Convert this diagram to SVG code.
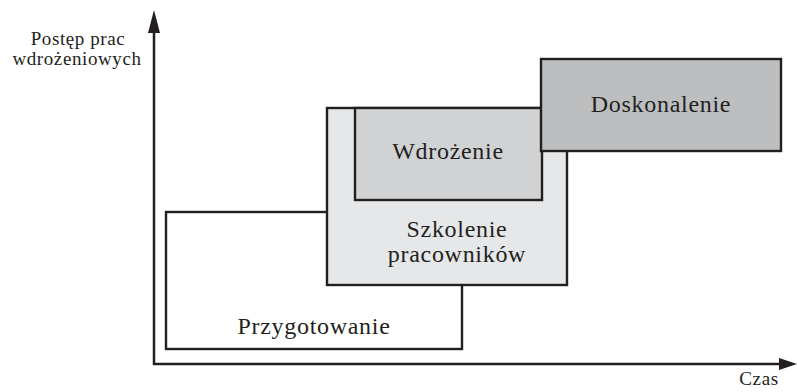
<svg xmlns="http://www.w3.org/2000/svg" width="797" height="392" viewBox="0 0 797 392">
  <style>
    .box { stroke: #231f20; stroke-width: 2.4; }
    .axis { stroke: #231f20; stroke-width: 2.5; fill: none; }
    .lbl { font-family: "Liberation Serif", "DejaVu Serif", serif; fill: #231f20; text-anchor: middle; }
    .big { font-size: 24px; letter-spacing: 0.7px; }
    .small { font-size: 19px; letter-spacing: 0.6px; }
  </style>
  <rect width="797" height="392" fill="#ffffff"/>

  <!-- axes with solid arrowheads -->
  <g id="connectors">
    <line class="axis" x1="154" y1="365" x2="154" y2="32"/>
    <path d="M154,10 L148,33 L160,33 Z" fill="#231f20"/>
    <line class="axis" x1="153" y1="364" x2="780" y2="364"/>
    <path d="M797,364 L779,358 L779,370 Z" fill="#231f20"/>
  </g>

  <g id="axis-y-label">
    <text class="lbl small" x="78" y="45">Postęp prac</text>
    <text class="lbl small" x="77" y="65">wdrożeniowych</text>
  </g>
  <g id="axis-x-label">
    <text class="lbl small" x="759" y="385">Czas</text>
  </g>

  <g id="przygotowanie">
    <rect class="box" x="166" y="212" width="296" height="137" fill="#ffffff"/>
    <text class="lbl big" x="314" y="334">Przygotowanie</text>
  </g>

  <g id="szkolenie">
    <rect class="box" x="327" y="108" width="240" height="177" fill="#e6e7e8"/>
    <text class="lbl big" x="457" y="237">Szkolenie</text>
    <text class="lbl big" x="457" y="262">pracowników</text>
  </g>

  <g id="wdrozenie">
    <rect class="box" x="355" y="108" width="187" height="92" fill="#d1d2d4"/>
    <text class="lbl big" x="448" y="159">Wdrożenie</text>
  </g>

  <g id="doskonalenie">
    <rect class="box" x="541" y="59" width="240" height="92" fill="#bcbec0"/>
    <text class="lbl big" x="661" y="112">Doskonalenie</text>
  </g>
</svg>
